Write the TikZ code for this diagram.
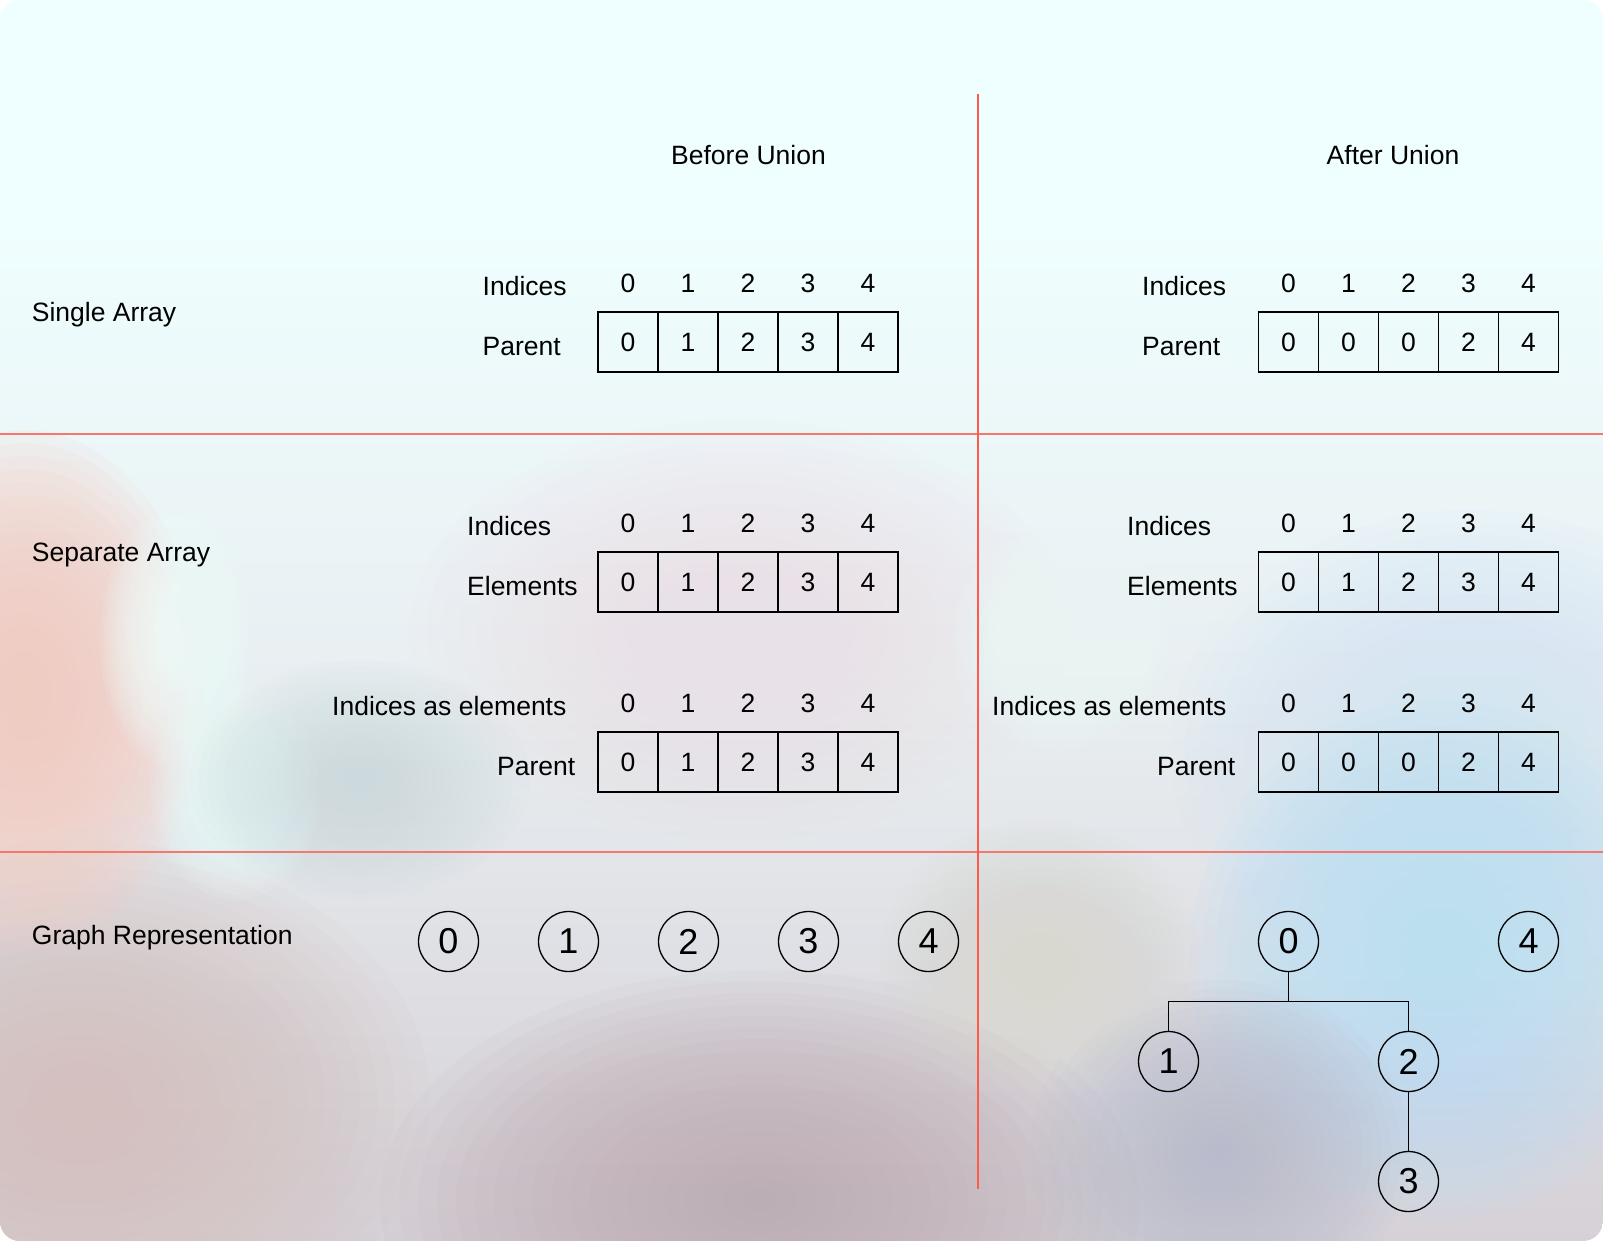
\documentclass[tikz,border=0pt]{standalone}
\usepackage{fontspec}
\setmainfont{Liberation Sans}
\definecolor{bgtop}{HTML}{EFFEFE}
\definecolor{bgmid}{HTML}{E8EEF1}
\definecolor{bgmidb}{HTML}{D7D3D9}
\definecolor{bgbot}{HTML}{C8BBBF}
\definecolor{sepv}{HTML}{FF5B4D}
\definecolor{seph}{HTML}{F6776C}
\definecolor{blobpink}{HTML}{F7CCC2}
\definecolor{blobcyan}{HTML}{EEFFFD}
\definecolor{blobteal}{HTML}{CADADD}
\definecolor{bloblav}{HTML}{EEE1E8}
\definecolor{blobblue}{HTML}{BCDFF8}
\definecolor{blobblue2}{HTML}{D4E6F8}
\definecolor{blobmauve}{HTML}{BCA9B0}
\definecolor{blobslate}{HTML}{B6BACC}
\definecolor{bloblight}{HTML}{E6E8F2}
\definecolor{blobbeige}{HTML}{D9D8CF}
\definecolor{blobbl}{HTML}{D4C0BD}
\pgfdeclareverticalshading{bgshade}{100bp}{color(0bp)=(bgbot); color(27bp)=(bgmidb); color(47bp)=(bgmid); color(66bp)=(bgtop); color(100bp)=(bgtop)}
\newcommand\lblfont{\fontsize{26.5}{30}\selectfont}
\newcommand\bigfont{\fontsize{36}{40}\selectfont}
% soft blob: colour, cx, cy, rx, ry, opacity per ring
\newcommand\softblob[6]{%
  \foreach \k in {1,...,20}{%
    \fill[#1, opacity=#6] (#2,#3) ellipse [x radius={#4*\k/20*1pt}, y radius={#5*\k/20*1pt}];}}
\tikzset{
  lbl/.style={font=\lblfont, anchor=base west, inner sep=0pt},
  hdr/.style={font=\lblfont, anchor=base, inner sep=0pt},
  idx/.style={font=\lblfont, anchor=base, inner sep=0pt},
  cell/.style={draw=black, line width=1.3pt, minimum width=60pt, minimum height=60pt, inner sep=0pt, font=\lblfont},
  vert/.style={circle, draw=black, line width=1.3pt, minimum size=60pt, inner sep=0pt, font=\bigfont},
  sepline/.style={line width=2pt},
  link/.style={draw=black, line width=1.3pt}
}
\begin{document}
\begin{tikzpicture}[x=1pt,y=-1pt]
\useasboundingbox (0,0) rectangle (1603,1241);
\fill[white] (0,0) rectangle (1603,1241);
\begin{scope}
\clip[rounded corners=20pt] (0,0) rectangle (1603,1241);
\shade[shading=bgshade] (0,0) rectangle (1603,1241);
\softblob{blobbl}{80}{1100}{350}{260}{0.08}
\softblob{blobpink}{25}{690}{180}{260}{0.12}
\softblob{blobcyan}{175}{640}{75}{130}{0.10}
\softblob{blobcyan}{235}{790}{85}{110}{0.09}
\softblob{blobteal}{360}{780}{170}{120}{0.06}
\softblob{bloblav}{740}{630}{330}{210}{0.07}
\softblob{blobcyan}{1060}{640}{110}{110}{0.08}
\softblob{blobblue2}{1470}{750}{300}{240}{0.08}
\softblob{blobblue}{1440}{960}{250}{260}{0.10}
\softblob{blobmauve}{760}{1200}{380}{230}{0.07}
\softblob{blobslate}{1220}{1150}{190}{170}{0.07}
\softblob{bloblight}{700}{895}{210}{85}{0.08}
\softblob{blobbeige}{1040}{960}{160}{140}{0.07}
\end{scope}
% separators
\draw[sepline, seph] (0,433.5) -- (1603,433.5);
\draw[sepline, seph] (0,851.5) -- (1603,851.5);
\draw[sepline, sepv] (978,94) -- (978,1188.5);
% headers
\node[hdr] (hb) at (748.5,165) {Before Union};
\node[hdr] (ha) at (1393,165) {After Union};
% row labels
\node[lbl] (r1) at (31.7,321) {Single Array};
\node[lbl] (r2) at (31.7,561) {Separate Array};
\node[lbl] (r3) at (31.7,944) {Graph Representation};
% section 1 before
\node[lbl] (s1bi) at (482.5,295) {Indices};
\node[lbl] (s1bp) at (482.5,355) {Parent};
\foreach \i in {0,...,4} \node[idx] (s1bx\i) at (628+60*\i,292) {\i};
\foreach \v [count=\i from 0] in {0,1,2,3,4} \node[cell] (s1bc\i) at (628+60*\i,342) {\v};
% section 1 after
\node[lbl] (s1ai) at (1142,295) {Indices};
\node[lbl] (s1ap) at (1142,355) {Parent};
\foreach \i in {0,...,4} \node[idx] (s1ax\i) at (1288.5+60*\i,292) {\i};
\foreach \v [count=\i from 0] in {0,0,0,2,4} \node[cell] (s1ac\i) at (1288.5+60*\i,342) {\v};
% section 2 before
\node[lbl] (s2bi) at (467,535) {Indices};
\node[lbl] (s2be) at (467,595.5) {Elements};
\foreach \i in {0,...,4} \node[idx] (s2bx\i) at (628+60*\i,532) {\i};
\foreach \v [count=\i from 0] in {0,1,2,3,4} \node[cell] (s2bc\i) at (628+60*\i,582) {\v};
\node[lbl] (s2bie) at (332,715) {Indices as elements};
\node[lbl] (s2bp) at (497,775) {Parent};
\foreach \i in {0,...,4} \node[idx] (s2by\i) at (628+60*\i,712) {\i};
\foreach \v [count=\i from 0] in {0,1,2,3,4} \node[cell] (s2bd\i) at (628+60*\i,762) {\v};
% section 2 after
\node[lbl] (s2ai) at (1127,535) {Indices};
\node[lbl] (s2ae) at (1127,595.5) {Elements};
\foreach \i in {0,...,4} \node[idx] (s2ax\i) at (1288.5+60*\i,532) {\i};
\foreach \v [count=\i from 0] in {0,1,2,3,4} \node[cell] (s2ac\i) at (1288.5+60*\i,582) {\v};
\node[lbl] (s2aie) at (992,715) {Indices as elements};
\node[lbl] (s2ap) at (1157,775) {Parent};
\foreach \i in {0,...,4} \node[idx] (s2ay\i) at (1288.5+60*\i,712) {\i};
\foreach \v [count=\i from 0] in {0,0,0,2,4} \node[cell] (s2ad\i) at (1288.5+60*\i,762) {\v};
% graph before
\foreach \i in {0,...,4} \node[vert] (gb\i) at (448.5+120*\i,941.5) {\i};
% graph after
\node[vert] (ga0) at (1288.5,941.5) {0};
\node[vert] (ga4) at (1528.5,941.5) {4};
\node[vert] (ga1) at (1168.5,1061.5) {1};
\node[vert] (ga2) at (1408.5,1061.5) {2};
\node[vert] (ga3) at (1408.5,1181.5) {3};
\coordinate (jn) at (1288.5,1001.5);
\draw[link] (ga0.south) -- (jn);
\draw[link] (ga1.north) |- (jn) -| (ga2.north);
\draw[link] (ga2.south) -- (ga3.north);
\end{tikzpicture}
\end{document}
